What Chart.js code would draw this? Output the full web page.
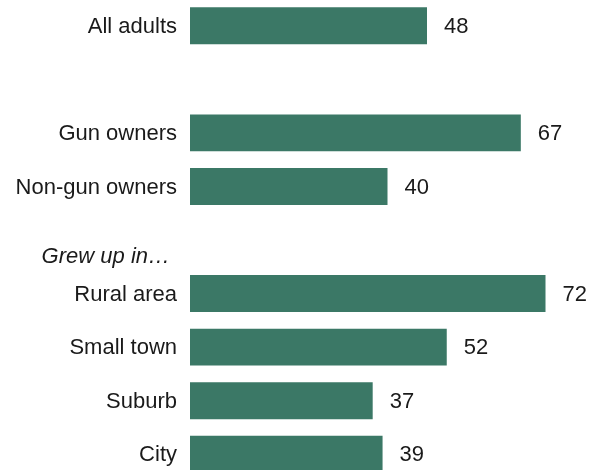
<!DOCTYPE html>
<html>
<head>
<meta charset="utf-8">
<script src="https://cdn.jsdelivr.net/npm/chart.js@4"></script>
<style>
  html, body { margin: 0; padding: 0; background: #fff; overflow: hidden; }
  #wrap { position: absolute; left: 0; top: -1px; width: 598px; height: 482px; }
</style>
</head>
<body>
<div id="wrap"><canvas id="c" width="598" height="482"></canvas></div>
<script>
const categories = ["All adults", "", "Gun owners", "Non-gun owners", "Grew up in\u2026", "Rural area", "Small town", "Suburb", "City"];
const values = [48, null, 67, 40, null, 72, 52, 37, 39];
const headerIndex = 4;

const FONT = "'Liberation Sans', Arial, sans-serif";
const BAR_COLOR = "#3b7866";
const TEXT_COLOR = "#1a1a1a";

const textLayer = {
  id: 'textLayer',
  afterDatasetsDraw(chart) {
    const ctx = chart.ctx;
    const meta = chart.getDatasetMeta(0);
    const yScale = chart.scales.y;
    const left = chart.chartArea.left;
    ctx.save();
    ctx.fillStyle = TEXT_COLOR;
    ctx.textBaseline = 'middle';
    // category labels
    categories.forEach((label, i) => {
      if (!label) return;
      const y = yScale.getPixelForValue(i);
      if (i === headerIndex) {
        ctx.font = "italic 22px " + FONT;
        ctx.textAlign = 'right';
        ctx.fillText(label, left - 20, y + 16.5);
      } else {
        ctx.font = "22px " + FONT;
        ctx.textAlign = 'right';
        ctx.fillText(label, left - 13, y + 1);
      }
    });
    // value labels
    ctx.font = "22px " + FONT;
    ctx.textAlign = 'left';
    meta.data.forEach((bar, i) => {
      const v = values[i];
      if (v === null || v === undefined) return;
      ctx.fillText(String(v), bar.x + 17, bar.y + 1);
    });
    ctx.restore();
  }
};

new Chart(document.getElementById('c'), {
  type: 'bar',
  data: {
    labels: categories,
    datasets: [{
      data: values,
      backgroundColor: BAR_COLOR,
      borderWidth: 0,
      barPercentage: 0.69,
      categoryPercentage: 1.0
    }]
  },
  options: {
    indexAxis: 'y',
    responsive: false,
    animation: false,
    layout: { padding: { left: 0, right: 13, top: 0, bottom: 0 } },
    plugins: {
      legend: { display: false },
      tooltip: { enabled: false }
    },
    scales: {
      x: {
        display: false,
        min: 0,
        max: 80
      },
      y: {
        grid: { display: false, drawTicks: false },
        border: { display: false },
        ticks: { display: false },
        afterFit: function(scale) { scale.width = 190; }
      }
    }
  },
  plugins: [textLayer]
});
</script>
</body>
</html>
